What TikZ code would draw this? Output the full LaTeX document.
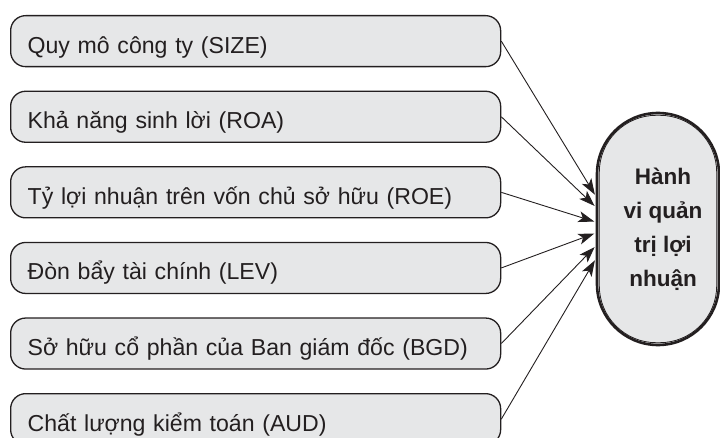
\documentclass[tikz,border=0pt]{standalone}
\usepackage{fontspec}
\setmainfont{Liberation Sans}
\usetikzlibrary{arrows.meta,calc}
\definecolor{boxfill}{HTML}{E6E7E8}
\definecolor{ink}{HTML}{231F20}
\begin{document}
\begin{tikzpicture}[x=1pt,y=-1pt,
  factor/.style={draw=ink, line width=1.3pt, fill=boxfill, rounded corners=15pt,
    anchor=north west, minimum width=490pt, minimum height=51pt,
    inner xsep=17pt, inner ysep=0pt, text width=456pt, align=left,
    text height=37.5pt, text depth=13.5pt,
    font=\fontsize{23.1}{28}\selectfont, text=ink},
  stad/.style={draw=ink, line width=2.6pt, fill=boxfill, rounded corners=61pt,
    minimum width=122pt, minimum height=232pt, inner sep=0pt},
  inner/.style={draw=ink, line width=0.8pt, rounded corners=57pt},
  lbltext/.style={align=center, text=ink, inner sep=0pt,
    font=\bfseries\fontsize{22.5}{34}\selectfont},
  arr/.style={draw=ink, line width=0.9pt, shorten >=1.5pt,
    -{Stealth[length=16pt,width=11pt,inset=4pt]}}
]
\useasboundingbox (0,0) rectangle (720,438);
\clip (0,0) rectangle (720,438);

\node[factor] (b1) at (10,15)    {Quy mô công ty (SIZE)};
\node[factor] (b2) at (10,90.6)  {Khả năng sinh lời (ROA)};
\node[factor] (b3) at (10,166.2) {Tỷ lợi nhuận trên vốn chủ sở hữu (ROE)};
\node[factor] (b4) at (10,241.8) {Đòn bẩy tài chính (LEV)};
\node[factor] (b5) at (10,317.4) {Sở hữu cổ phần của Ban giám đốc (BGD)};
\node[factor] (b6) at (10,393)   {Chất lượng kiểm toán (AUD)};

\node[stad] (s) at (658,229) {};
\draw[inner] ($(s.south west)+(3.6,-3.6)$) rectangle ($(s.north east)+(-3.6,3.6)$);
\node[lbltext] (lbl) at (663,229.5) {Hành\\vi quản\\trị lợi\\nhuận};

\draw[arr] (b1.east) -- ([yshift=33pt]s.west);
\draw[arr] (b2.east) -- ([yshift=22pt]s.west);
\draw[arr] (b3.east) -- ([yshift=7pt]s.west);
\draw[arr] (b4.east) -- ([yshift=-4pt]s.west);
\draw[arr] (b5.east) -- ([yshift=-17pt]s.west);
\draw[arr] (b6.east) -- ([yshift=-30pt]s.west);
\end{tikzpicture}
\end{document}
